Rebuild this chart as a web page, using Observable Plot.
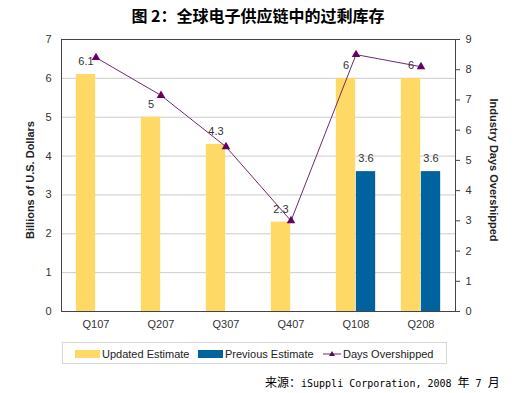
<!DOCTYPE html>
<html>
<head>
<meta charset="utf-8">
<script src="https://cdn.jsdelivr.net/npm/d3@7"></script>
<script src="https://cdn.jsdelivr.net/npm/@observablehq/plot@0.6"></script>
<style>
  html, body { margin: 0; padding: 0; background: #fff; }
  #wrap { position: relative; width: 516px; height: 393px; overflow: hidden; font-family: "Liberation Sans", Arial, sans-serif; }
  #title { position: absolute; left: 0; top: 4px; width: 516px; text-align: center; font-family: "Noto Sans CJK SC", sans-serif; font-weight: 700; font-size: 16px; line-height: 22px; color: #000; }
  #chart { position: absolute; left: 0; top: 28px; }
  .ylab { position: absolute; font-weight: 700; font-size: 11px; color: #222; white-space: nowrap; }
  #ylabL { left: 30px; top: 180px; transform: translate(-50%, -50%) rotate(-90deg); }
  #ylabR { left: 494px; top: 170px; transform: translate(-50%, -50%) rotate(90deg); }
  #legend { position: absolute; left: 62px; top: 342px; width: 385px; height: 22px; border: 1px solid #d8d8d8; box-sizing: border-box; font-size: 11px; color: #222; }
  .li { position: absolute; top: 4px; height: 14px; line-height: 14px; display: flex; align-items: center; white-space: nowrap; }
  .li svg { margin-right: 2px; }
  #caption { position: absolute; left: 265px; top: 374px; font-size: 12px; line-height: 16px; color: #000; white-space: nowrap; }
  #caption .cjk { font-family: "Noto Sans CJK SC", sans-serif; }
  #caption .lat { font-family: "DejaVu Sans Mono", "Liberation Mono", monospace; font-size: 10px; }
</style>
</head>
<body>
<div id="wrap">
  <div id="title">图 2：全球电子供应链中的过剩库存</div>
  <div id="chart"></div>
  <div class="ylab" id="ylabL">Billions of U.S. Dollars</div>
  <div class="ylab" id="ylabR">Industry Days Overshipped</div>
  <div id="legend">
    <div class="li" style="left:12px"><svg width="25" height="8"><rect width="25" height="8" fill="#FFD966"/></svg>Updated Estimate</div>
    <div class="li" style="left:135px"><svg width="25" height="8"><rect width="25" height="8" fill="#00639E"/></svg>Previous Estimate</div>
    <div class="li" style="left:260px"><svg width="18" height="10"><line x1="0" y1="5" x2="18" y2="5" stroke="#6B2C6B" stroke-width="1"/><path d="M9,2 L12,7 L6,7 Z" fill="#660066"/></svg>Days Overshipped</div>
  </div>
  <div id="caption"><span class="cjk">来源：</span><span class="lat">iSuppli Corporation, 2008 </span><span class="cjk">年</span><span class="lat"> 7 </span><span class="cjk">月</span></div>
</div>
<script>
const quarters = ["Q107", "Q207", "Q307", "Q407", "Q108", "Q208"];
const updated = [6.1, 5, 4.3, 2.3, 6, 6];
const previous = [null, null, null, null, 3.6, 3.6];
const days = [8.4, 7.15, 5.45, 3.0, 8.5, 8.1];
const leftTicks = [0, 1, 2, 3, 4, 5, 6, 7];
const rightTicks = [0, 1, 2, 3, 4, 5, 6, 7, 8, 9];

const leftMax = 7, rightMax = 9;
const toLeft = v => v * leftMax / rightMax;

const updData = quarters.map((q, i) => ({q, v: updated[i]}));
const prevData = quarters.map((q, i) => ({q, v: previous[i]})).filter(d => d.v != null);
const dayData = quarters.map((q, i) => ({q, d: days[i]}));

const W = 516, ML = 61, MR = 61;
const bw = (W - ML - MR) / quarters.length;
const barW = 20;

const chart = Plot.plot({
  width: W,
  height: 312,
  marginTop: 11,
  marginBottom: 29,
  marginLeft: ML,
  marginRight: MR,
  style: {fontFamily: "'Liberation Sans', Arial, sans-serif", fontSize: "11px", color: "#333", background: "#fff"},
  x: {type: "band", domain: quarters, padding: 0, axis: null},
  y: {domain: [0, leftMax], axis: null},
  marks: [
    Plot.gridY(leftTicks.slice(1, -1), {stroke: "#cccccc", strokeOpacity: 1}),
    Plot.barY(updData, {x: "q", y: "v", fill: "#FFD966", insetLeft: bw / 2 - barW, insetRight: bw / 2}),
    Plot.barY(prevData, {x: "q", y: "v", fill: "#00639E", insetLeft: bw / 2, insetRight: bw / 2 - barW}),
    Plot.text(updData, {x: "q", y: "v", text: d => String(d.v), dx: -barW / 2, dy: -13, fill: "#333", fontSize: 11}),
    Plot.text(prevData, {x: "q", y: "v", text: d => String(d.v), dx: barW / 2, dy: -13, fill: "#333", fontSize: 11}),
    Plot.line(dayData, {x: "q", y: d => toLeft(d.d), stroke: "#6B2C6B", strokeWidth: 1}),
    Plot.dot(dayData, {x: "q", y: d => toLeft(d.d), symbol: "triangle", r: 3.2, fill: "#660066", stroke: "none"}),
    Plot.frame({stroke: "#444", strokeWidth: 1}),
    Plot.axisY(leftTicks, {anchor: "left", tickSize: 0, tickPadding: 10, fill: "#333", label: null}),
    Plot.axisY(rightTicks.map(toLeft), {anchor: "right", tickSize: 4, tickPadding: 6, stroke: "#444", fill: "#333", tickFormat: v => String(Math.round(v * rightMax / leftMax)), label: null}),
    Plot.axisX({tickSize: 0, tickPadding: 9, fill: "#333", label: null})
  ]
});
document.getElementById("chart").appendChild(chart);
</script>
</body>
</html>
